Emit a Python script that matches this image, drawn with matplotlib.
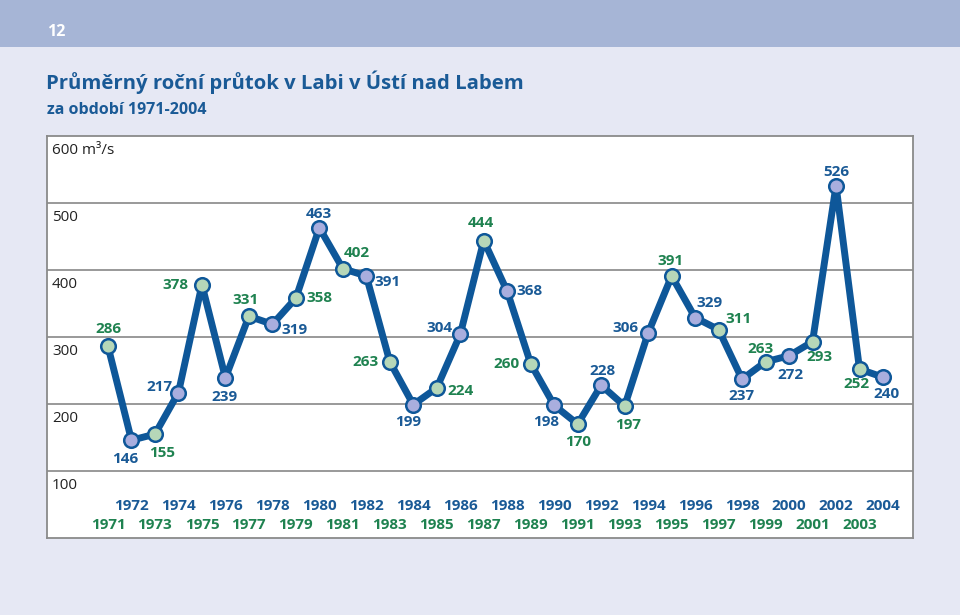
import numpy as np
import matplotlib
matplotlib.use("Agg")
from matplotlib import pyplot as plt
from matplotlib.patches import Rectangle
import matplotlib.transforms as mtransforms

years = list(range(1971, 2005))
flow = [286, 146, 155, 217, 378, 239, 331, 319, 358, 463,
        402, 391, 263, 199, 224, 304, 444, 368, 260, 198,
        170, 228, 197, 306, 391, 329, 311, 237, 263, 272,
        293, 526, 252, 240]
y_ticks = [600, 500, 400, 300, 200, 100]
y_tick_labels = ["600 m³/s", "500", "400", "300", "200", "100"]

title = "Průměrný roční průtok v Labi v Ústí nad Labem"
subtitle = "za období 1971-2004"
page_no = "12"

# label offsets from the marker centre, in pixels (dx right, dy down)
label_offsets = [
    (0, -17), (-6, 19), (7, 19), (-19, -6), (-27, 0), (-1, 19), (-3, -16), (22, 6),
    (24, 0), (0, -14), (14, -16), (21, 6), (-24, 0), (-5, 17), (24, 3), (-21, -6),
    (-3, -18), (22, 0), (-24, 0), (-8, 17), (0, 18), (1, -14), (3, 19), (-23, -5),
    (-1, -15), (14, -15), (20, -11), (-1, 17), (-5, -13), (1, 19), (7, 15), (0, -14),
    (-3, 15), (3, 17),
]

BG = "#e6e8f4"
HEADER = "#a6b5d6"
BLUE = "#1a5a96"
GREEN = "#1f8250"
LINE = "#0e5799"
FILL_EVEN = "#a9aede"
FILL_ODD = "#b6d7b8"
FONT = ["Open Sans", "DejaVu Sans"]

W, H = 960, 615
fig = plt.figure(figsize=(W / 100, H / 100), dpi=100, facecolor=BG)
fig.patches.append(Rectangle((0, 1 - 47 / H), 1, 47 / H, transform=fig.transFigure,
                             facecolor=HEADER, edgecolor="none", zorder=0))
fig.text(47 / W, 1 - 32 / H, page_no, color="white", fontsize=11.5, fontweight="bold",
         family=FONT, va="center", ha="left")
fig.text(46 / W, 1 - 82 / H, title, color=BLUE, fontsize=14.6, fontweight="bold",
         family=FONT, va="center", ha="left")
fig.text(47 / W, 1 - 110 / H, subtitle, color=BLUE, fontsize=11.5, fontweight="bold",
         family=FONT, va="center", ha="left")

ax = fig.add_axes([47 / W, (H - 538) / H, (913 - 47) / W, (538 - 136) / H])
ax.set_facecolor("white")
step = (883 - 108) / 33
ax.set_xlim(1971 - (108 - 47) / step, 2004 + (913 - 883) / step)
ax.set_ylim(0, 600)
for s in ax.spines.values():
    s.set_color("#8a8a8a")
    s.set_linewidth(1.3)
ax.set_xticks([])
ax.set_yticks([])

for t in y_ticks[1:]:
    ax.axhline(t, color="#7d7d7d", lw=1.1, zorder=1)

trans = mtransforms.blended_transform_factory(ax.transAxes, ax.transData)
for t, lab in zip(y_ticks, y_tick_labels):
    ax.text(5 / 866, t - 21, lab, transform=trans, fontsize=11, color="#222222",
            family=FONT, va="center", ha="left")

ax.plot(years, flow, color=LINE, lw=5.0, zorder=2, solid_joinstyle="round")
for i, (yr, v) in enumerate(zip(years, flow)):
    odd = yr % 2 == 1
    ax.plot(yr, v, marker="o", ms=10.5, mfc=FILL_ODD if odd else FILL_EVEN,
            mec=LINE, mew=1.8, zorder=3)
    dx, dy = label_offsets[i]
    ax.annotate(str(v), (yr, v), xytext=(dx * 0.72, -dy * 0.72), textcoords="offset points",
                ha="center", va="center", fontsize=11, fontweight="bold",
                color=GREEN if odd else BLUE, family=FONT, zorder=4)
    ax.text(yr, 48 if not odd else 19, str(yr), ha="center", va="center", fontsize=11,
            fontweight="bold", color=GREEN if odd else BLUE, family=FONT, zorder=4)

fig.savefig("out.png", dpi=100, facecolor=BG)
